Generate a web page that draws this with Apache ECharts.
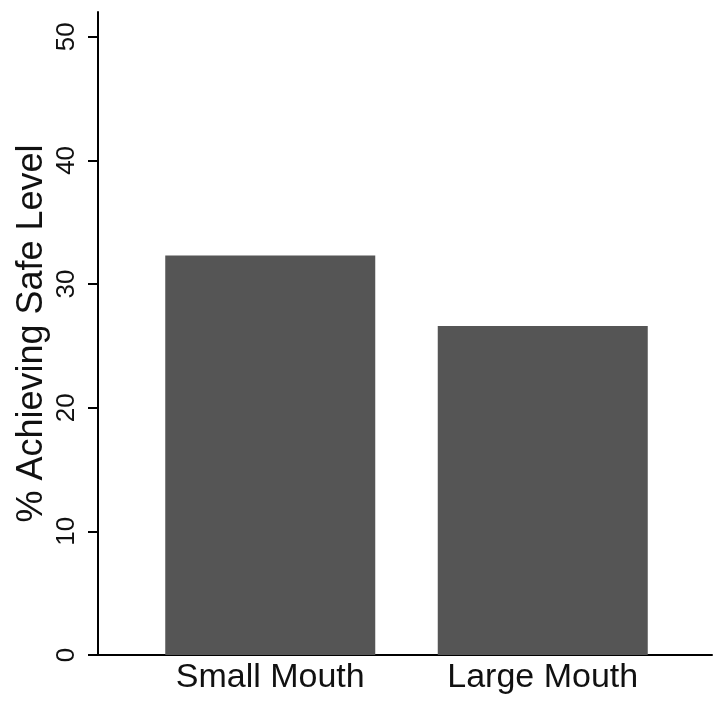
<!DOCTYPE html>
<html>
<head>
<meta charset="utf-8">
<script src="https://cdn.jsdelivr.net/npm/echarts@6/dist/echarts.min.js"></script>
<style>html,body{margin:0;padding:0;background:#fff}#c{width:715px;height:701px}</style>
</head>
<body>
<div id="c"></div>
<script>
const categories = ['Small Mouth', 'Large Mouth'];
const values = [32.3, 26.6];
const yTicks = [0, 10, 20, 30, 40, 50];
const yTitle = '% Achieving Safe Level';

const chart = echarts.init(document.getElementById('c'), null, {renderer: 'canvas'});
const font = 'Liberation Sans, Arial, Helvetica, sans-serif';
chart.setOption({
  animation: false,
  backgroundColor: '#fff',
  grid: [
    {left: 98, right: 3, top: 12, bottom: 46},
    {left: 134, right: 36, top: 12, bottom: 46}
  ],
  xAxis: [
    {gridIndex: 0, type: 'value', min: 0, max: 1,
     axisLine: {show: true, lineStyle: {color: '#000', width: 2}},
     axisTick: {show: false}, axisLabel: {show: false}, splitLine: {show: false}},
    {gridIndex: 1, type: 'category', data: categories,
     axisLine: {show: false}, axisTick: {show: false}, splitLine: {show: false},
     axisLabel: {color: '#111', fontSize: 34, fontFamily: font, margin: 6}}
  ],
  yAxis: [
    {gridIndex: 0, type: 'value', min: 0, max: 52,
     axisLine: {show: true, lineStyle: {color: '#000', width: 2}},
     axisTick: {show: true, length: 10, customValues: yTicks, lineStyle: {color: '#000', width: 2}},
     axisLabel: {show: true, customValues: yTicks, rotate: 90, margin: 18, color: '#111', fontSize: 26, fontFamily: font},
     splitLine: {show: false},
     name: yTitle, nameLocation: 'middle', nameRotate: 90, nameGap: 48, nameMoveOverlap: false,
     nameTextStyle: {color: '#111', fontSize: 36, fontFamily: font}},
    {gridIndex: 1, type: 'value', min: 0, max: 52, show: false, splitLine: {show: false}}
  ],
  series: [{
    type: 'bar', xAxisIndex: 1, yAxisIndex: 1, data: values,
    barWidth: 210, itemStyle: {color: '#555555'}
  }]
});
</script>
</body>
</html>
